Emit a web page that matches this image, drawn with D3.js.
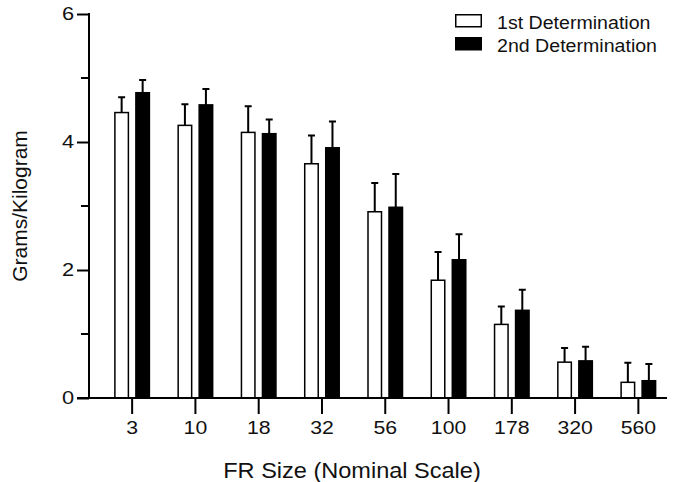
<!DOCTYPE html>
<html>
<head>
<meta charset="utf-8">
<script src="https://cdn.jsdelivr.net/npm/d3@7"></script>
<style>
body { margin: 0; background: #fff; }
svg text { font-family: "Liberation Sans", Arial, sans-serif; fill: #111; }
</style>
</head>
<body>
<svg id="chart" width="677" height="482"></svg>
<script>
const sizes = ['3', '10', '18', '32', '56', '100', '178', '320', '560'];
const first = [4.46, 4.26, 4.15, 3.66, 2.91, 1.84, 1.15, 0.56, 0.245];
const firstErr = [0.24, 0.33, 0.41, 0.44, 0.45, 0.44, 0.28, 0.22, 0.305];
const second = [4.77, 4.58, 4.13, 3.91, 2.98, 2.16, 1.37, 0.58, 0.27];
const secondErr = [0.20, 0.25, 0.22, 0.41, 0.52, 0.40, 0.32, 0.22, 0.26];
const keys = ['first', 'second'];
const legendNames = {first: '1st Determination', second: '2nd Determination'};
const yTicks = [0, 2, 4, 6];
const yMinor = [1, 3, 5];

function draw() {
    const svg = d3.select('#chart');
    const x0 = 89, x1 = 667, yBase = 398, yTop = 14;
    const stretch = 1.18; // the source lettering is a bit wide

    var xs = d3.scaleBand().domain(sizes).range([100.5, 670]).padding(0);
    var xg = d3.scaleBand().domain(keys).range([-18, 18]).paddingInner(0.286).paddingOuter(0);
    var ys = d3.scaleLinear().domain([0, 6]).range([yBase, yTop]);
    var color = d3.scaleOrdinal().domain(keys).range(['#fff', '#000']);

    const rows = sizes.map((s, i) => ({
        size: s,
        values: [
            {key: 'first', value: first[i], err: firstErr[i]},
            {key: 'second', value: second[i], err: secondErr[i]}
        ]
    }));

    const groups = svg.selectAll('.size-group').data(rows).enter()
        .append('g').attr('class', 'size-group')
        .attr('transform', d => `translate(${xs(d.size) + xs.bandwidth() / 2},0)`);

    // error bars (upper only)
    groups.selectAll('.err')
        .data(d => d.values)
        .enter().append('path')
        .attr('class', 'err')
        .attr('d', d => {
            const cx = xg(d.key) + xg.bandwidth() / 2;
            const top = ys(d.value + d.err);
            return `M${cx},${ys(d.value)}V${top}M${cx - 3.5},${top}H${cx + 3.5}`;
        })
        .attr('stroke', '#000')
        .attr('stroke-width', 2)
        .attr('fill', 'none');

    groups.selectAll('rect')
        .data(d => d.values)
        .enter().append('rect')
        .attr('x', d => xg(d.key) + 0.75)
        .attr('y', d => ys(d.value))
        .attr('width', xg.bandwidth() - 1.5)
        .attr('height', d => ys(0) - ys(d.value))
        .attr('fill', d => color(d.key))
        .attr('stroke', '#000')
        .attr('stroke-width', 1.5);

    // y axis
    const yAxis = svg.append('g').attr('transform', `translate(${x0},0)`)
        .call(d3.axisLeft(ys).tickValues(yTicks).tickSize(12).tickPadding(4).tickFormat(d3.format('d')));
    yAxis.select('.domain').remove();
    yAxis.selectAll('.tick line').attr('stroke', '#000').attr('stroke-width', 2);
    yAxis.selectAll('.tick text')
        .style('font-size', '18.5px').attr('fill', '#111')
        .attr('x', -15 / stretch)
        .attr('transform', `scale(${stretch},1)`);
    yAxis.selectAll('.minor').data(yMinor).enter().append('line')
        .attr('x1', -8).attr('x2', 0)
        .attr('y1', d => ys(d)).attr('y2', d => ys(d))
        .attr('stroke', '#000').attr('stroke-width', 2);
    svg.append('line')
        .attr('x1', x0).attr('x2', x0)
        .attr('y1', ys(6) - 1).attr('y2', yBase + 1)
        .attr('stroke', '#000').attr('stroke-width', 2);

    // x axis
    const xAxis = svg.append('g').attr('transform', `translate(0,${yBase})`)
        .call(d3.axisBottom(xs).tickSize(16).tickPadding(7));
    xAxis.select('.domain').remove();
    xAxis.selectAll('.tick line').attr('stroke', '#000').attr('stroke-width', 2);
    xAxis.selectAll('.tick text')
        .style('font-size', '18px').attr('fill', '#111')
        .attr('transform', `scale(${stretch},1)`);
    svg.append('line')
        .attr('x1', x0 - 12).attr('x2', x1)
        .attr('y1', yBase).attr('y2', yBase)
        .attr('stroke', '#000').attr('stroke-width', 2);

    svg.append('text')
        .attr('transform', 'translate(352,478) scale(1.07,1)')
        .attr('text-anchor', 'middle')
        .style('font-size', '22px')
        .text('FR Size (Nominal Scale)');

    svg.append('text')
        .attr('transform', 'translate(27,206) rotate(-90)')
        .attr('text-anchor', 'middle')
        .style('font-size', '21px')
        .text('Grams/Kilogram');

    const legend = svg.selectAll('.legend')
        .data(keys)
        .enter().append('g')
        .attr('class', 'legend')
        .attr('transform', (d, i) => `translate(455,${14 + i * 23})`);

    legend.append('rect')
        .attr('x', 0.75).attr('y', 0.75)
        .attr('width', 25.5).attr('height', 12)
        .attr('fill', color)
        .attr('stroke', '#000').attr('stroke-width', 1.5);

    legend.append('text')
        .attr('transform', 'translate(42,14.5) scale(1.12,1)')
        .style('font-size', '17.5px')
        .text(d => legendNames[d]);
}

draw();
</script>
</body>
</html>
